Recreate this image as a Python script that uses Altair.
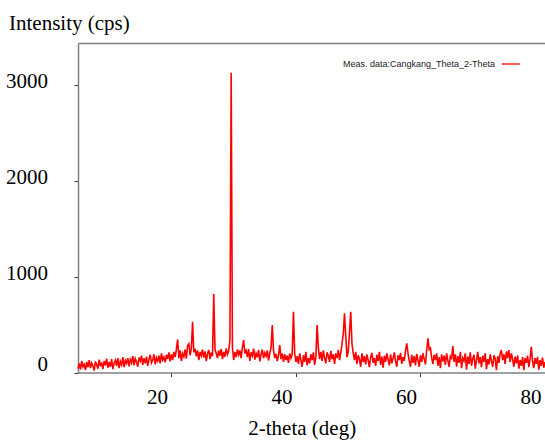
import altair as alt
import pandas as pd

series_name = "Meas. data:Cangkang_Theta_2-Theta"
start_deg = 5.0
step_deg = 0.2

# intensities (cps), 0.2 deg apart, one row per degree
counts_05_20 = [
    40, 95, 30, 120, 60,
    85, 25, 110, 55, 130,
    45, 100, 70, 20, 115,
    80, 40, 135, 65, 105,
    35, 120, 75, 145, 50,
    110, 60, 140, 35, 95,
    130, 70, 150, 45, 115,
    80, 160, 55, 125, 95,
    150, 65, 135, 100, 170,
    75, 145, 110, 60, 155,
    120, 175, 80, 150, 95,
    165, 70, 140, 185, 100,
    130, 190, 85, 155, 120,
    175, 95, 200, 130, 160,
    105, 185, 140, 210, 115,
]
counts_20_35 = [
    190, 130, 215, 160, 240,
    345, 150, 230, 120, 200,
    165, 240, 145, 280, 300,
    180, 250, 529, 210, 250,
    170, 230, 130, 215, 175,
    240, 155, 220, 120, 195,
    235, 140, 210, 170, 818,
    240, 200, 150, 230, 175,
    245, 140, 215, 165, 250,
    190, 225, 330, 3128, 260,
    130, 215, 160, 240, 185,
    230, 150, 260, 338, 200,
    230, 160, 245, 120, 210,
    175, 250, 135, 200, 160,
    235, 115, 190, 240, 150,
]
counts_35_50 = [
    205, 170, 230, 125, 200,
    260, 495, 230, 150, 195,
    120, 180, 286, 140, 200,
    110, 190, 130, 175, 100,
    200, 150, 190, 634, 200,
    110, 170, 90, 200, 130,
    60, 180, 110, 215, 75,
    150, 95, 190, 130, 210,
    80, 160, 495, 260, 140,
    215, 120, 230, 150, 95,
    210, 175, 110, 225, 140,
    190, 90, 200, 150, 235,
    130, 210, 300, 400, 617,
    380, 160, 220, 420, 634,
    300, 200, 130, 215, 90,
]
counts_50_65 = [
    180, 140, 60, 200, 110,
    170, 85, 190, 125, 55,
    160, 205, 100, 150, 70,
    185, 120, 215, 80, 165,
    50, 175, 110, 200, 135,
    75, 190, 95, 150, 210,
    115, 60, 180, 130, 205,
    90, 160, 120, 230, 304,
    200, 120, 60, 185, 100,
    170, 75, 195, 130, 60,
    180, 110, 200, 140, 85,
    230, 356, 240, 255, 150,
    90, 185, 130, 200, 70,
    160, 46, 190, 115, 175,
    80, 200, 125, 60, 170,
]
counts_65_80 = [
    150, 275, 110, 190, 60,
    170, 100, 216, 45, 150,
    120, 200, 30, 165, 90,
    210, 70, 145, 185, 40,
    130, 216, 95, 160, 55,
    175, 110, 200, 35, 140,
    85, 190, 120, 60, 180,
    145, 25, 170, 100, 200,
    234, 130, 190, 90, 220,
    150, 234, 110, 200, 140,
    60, 165, 95, 180, 40,
    130, 70, 160, 25, 150,
    100, 175, 55, 140, 268,
    120, 45, 150, 90, 164,
    30, 130, 70, 155, 50,
    110,
]

x_ticks = [20, 40, 60, 80]
y_ticks = [0, 1000, 2000, 3000]
x_domain = [5, 80]
y_domain = [0, 3438]

counts = counts_05_20 + counts_20_35 + counts_35_50 + counts_50_65 + counts_65_80
two_theta = [round(start_deg + i * step_deg, 1) for i in range(len(counts))]
df = pd.DataFrame({"two_theta": two_theta, "intensity": counts, "series": series_name})

serif = "Liberation Serif"
frame_gray = "#808080"

x_scale = alt.Scale(domain=x_domain, nice=False, zero=False)
y_scale = alt.Scale(domain=y_domain, nice=False, zero=False)

line = alt.Chart(df).mark_line(strokeWidth=1.6).encode(
    x=alt.X(
        "two_theta:Q",
        scale=x_scale,
        axis=alt.Axis(
            values=x_ticks, orient="bottom", grid=False, title="2-theta (deg)",
            format="d",
            domainColor=frame_gray, domainWidth=1.5,
            tickColor="#333333", tickSize=4, tickWidth=1,
            labelFont=serif, labelFontSize=21, labelColor="#000000",
            labelPadding=10, labelOffset=-14.5, labelFlush=False, labelBound=False,
            labelOverlap=False,
            titleFont=serif, titleFontSize=21, titleFontWeight="normal", titleColor="#000000",
            titleX=223.7, titleY=61.5, titleAlign="center", titleBaseline="alphabetic",
        ),
    ),
    y=alt.Y(
        "intensity:Q",
        scale=y_scale,
        axis=alt.Axis(
            values=y_ticks, orient="left", grid=False, title="Intensity (cps)",
            format="d",
            domainColor=frame_gray, domainWidth=1.5,
            tickColor="#333333", tickSize=4, tickWidth=1,
            labelFont=serif, labelFontSize=21, labelColor="#000000",
            labelPadding=26.5,
            labelOffset={"condition": {"test": "datum.value === 0", "value": -8}, "value": -3},
            labelOverlap=False,
            titleFont=serif, titleFontSize=21, titleFontWeight="normal", titleColor="#000000",
            titleAngle=0, titleX=-69.5, titleY=-13.7, titleAlign="left", titleBaseline="alphabetic",
        ),
    ),
    color=alt.Color(
        "series:N",
        scale=alt.Scale(range=["#ff0000"]),
        legend=alt.Legend(
            title=None, orient="none", legendX=423, legendY=11, padding=0,
            symbolType="stroke", symbolSize=324, symbolStrokeWidth=1.3,
            symbolStrokeColor="#ff0000",
            labelFont="Liberation Sans", labelFontSize=9, labelColor="#222222",
            labelAlign="right", labelOffset={"expr": "-26"}, labelLimit=400,
        ),
    ),
)

frame_top = alt.Chart(df).mark_line(opacity=0).encode(
    x=alt.X(
        "two_theta:Q",
        scale=x_scale,
        axis=alt.Axis(orient="top", labels=False, ticks=False, grid=False, title="",
                      domainColor=frame_gray, domainWidth=1.5),
    ),
    y=alt.Y("intensity:Q", scale=y_scale, axis=None),
)

chart = (
    alt.layer(line, frame_top)
    .resolve_axis(x="independent", y="independent")
    .properties(
        width=467, height=329.5,
        autosize=alt.AutoSizeParams(type="none"),
        padding={"left": 78, "top": 43, "right": 0, "bottom": 70},
        background="white",
    )
    .configure_view(stroke=None)
)

chart.save("out.html", embed_options={"renderer": "svg", "actions": False})
